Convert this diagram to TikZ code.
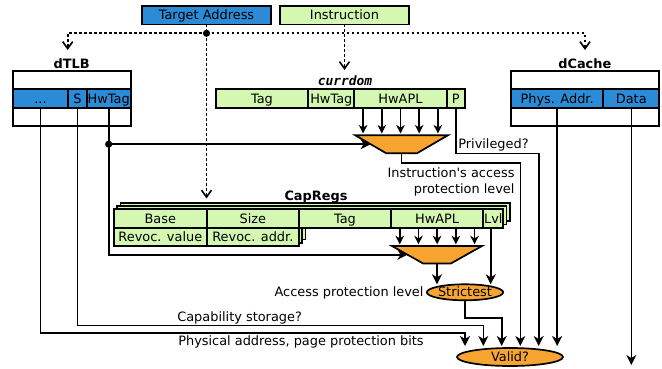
\documentclass[tikz,border=0pt]{standalone}
\usepackage{fontspec}
\setmainfont{DejaVu Sans}[Ligatures=TeXOff]
\setmonofont{DejaVu Sans Mono}
\usetikzlibrary{arrows.meta,shapes.geometric,calc}
\definecolor{regblue}{HTML}{2C8BD6}
\definecolor{reggreen}{HTML}{D4F7B2}
\definecolor{unitorange}{HTML}{F7A530}

\begin{document}
\begin{tikzpicture}[x=1pt,y=-1pt,
  every node/.style={font=\fontsize{12.9}{16}\selectfont, inner sep=0pt, outer sep=0pt},
  cell/.style={draw, line width=1.7pt, anchor=north west, minimum height=18.4,
    text height=10pt, text depth=0.9pt},
  bcell/.style={cell, fill=regblue},
  gcell/.style={cell, fill=reggreen},
  frame/.style={draw, line width=1.7pt, anchor=north west, minimum height=55.3},
  title/.style={font=\fontsize{12.9}{15}\selectfont\bfseries, anchor=base},
  conn/.style={line width=1.6pt, -{Stealth[length=10pt,width=10pt,inset=3pt]}},
  fan/.style={line width=1.6pt, -{Stealth[length=8.5pt,width=8.5pt,inset=2.5pt]}},
  wire/.style={line width=1.6pt},
  dotline/.style={line width=1.6pt, dash pattern=on 2.5pt off 2.5pt},
  dotarrow/.style={dotline, -{Straight Barb[length=7pt,width=10pt,line width=1.6pt]}},
  mux/.style={draw, line width=1.7pt, fill=unitorange, trapezium, inner sep=1pt,
    shape border rotate=180, trapezium stretches=true},
  unit/.style={draw, line width=1.7pt, fill=unitorange, ellipse,
    text height=10pt, text depth=0.9pt}
]
\useasboundingbox (0,0) rectangle (662,369);

% ---- inputs ----
\node[bcell, minimum width=129] (tgt) at (142,6) {Target Address};
\node[gcell, minimum width=129] (instr) at (280,6) {Instruction};

% ---- dTLB ----
\node[title] (tlbtitle) at (71.7,68.3) {dTLB};
\node[frame, minimum width=118] (tlb) at (12.7,70.7) {};
\node[bcell, minimum width=55.6] (tlbdots) at (12.7,89.3) {...};
\node[bcell, minimum width=18.4] (tlbs) at (68.3,89.3) {S};
\node[bcell, minimum width=44] (tlbtag) at (86.7,89.3) {HwTag};

% ---- dCache ----
\node[title] (dctitle) at (584.8,68.3) {dCache};
\node[frame, minimum width=148.3] (dc) at (511,70.7) {};
\node[bcell, minimum width=92.3] (dcpa) at (511,89.3) {Phys. Addr.};
\node[bcell, minimum width=56] (dcdata) at (603.3,89.3) {Data};

% ---- current domain register ----
\node[font=\fontsize{12.9}{15}\selectfont\ttfamily\bfseries\itshape, anchor=base]
  (curtitle) at (345,85.7) {currdom};
\node[gcell, minimum width=92.6] (curtag) at (215.7,89.3) {Tag};
\node[gcell, minimum width=46] (curhwtag) at (308.3,89.3) {HwTag};
\node[gcell, minimum width=92.4] (curapl) at (354.3,89.3) {HwAPL};
\node[gcell, minimum width=18.3] (curp) at (446.7,89.3) {P};

% ---- capability registers (stacked) ----
\foreach \s in {6.6,3.3}
  \draw[line width=1.7pt, fill=reggreen, shift={(\s,-\s)}]
    (114,209.3) -- (503.3,209.3) -- (503.3,227.7) -- (299,227.7)
    -- (299,246) -- (114,246) -- cycle;
\node[title] (captitle) at (316,200) {CapRegs};
\node[gcell, minimum width=92.7] (capbase) at (114,209.3) {Base};
\node[gcell, minimum width=92.3] (capsize) at (206.7,209.3) {Size};
\node[gcell, minimum width=92] (captag) at (299,209.3) {Tag};
\node[gcell, minimum width=92.3] (capapl) at (391,209.3) {HwAPL};
\node[gcell, minimum width=20] (caplvl) at (483.3,209.3) {Lvl};
\node[gcell, minimum width=92.7] (caprval) at (114,227.7) {Revoc. value};
\node[gcell, minimum width=92.3] (capraddr) at (206.7,227.7) {Revoc. addr.};

% ---- selectors and checks ----
\node[mux, minimum width=93, minimum height=18, trapezium angle=45] (mux1) at (401.6,144.2) {};
\node[mux, minimum width=90, minimum height=17.4, trapezium angle=42] (mux2) at (437,254.7) {};
\node[unit, minimum width=76, minimum height=16] (strict) at (465,292.3) {Strictest};
\node[unit, minimum width=106, minimum height=18] (valid) at (510,357) {Valid?};

% ---- routing points ----
\coordinate (jt) at (206.5,33.3);
\coordinate (tlbin) at (67.7,50);
\coordinate (dcin) at (585,50);
\coordinate (curin) at (344.5,70);
\coordinate (capin) at (206.5,198.5);
\coordinate (b1) at (465,332.7);   \coordinate (v1) at (465,346);
\coordinate (b2) at (483.3,325.3); \coordinate (v2) at (483.3,346);
\coordinate (b3) at (501.7,318);   \coordinate (v3) at (501.7,346);
\coordinate (b4) at (520.3,162.7); \coordinate (v4) at (520.3,346);
\coordinate (b5) at (538.7,153.3); \coordinate (v5) at (538.7,346);
\coordinate (v6) at (557.15,346);
\coordinate (dout) at (631.3,365);

% ---- address / instruction distribution ----
\draw[dotline] (tgt.south) -- (jt);
\draw[dotarrow] (jt) -| (tlbin);
\draw[dotarrow] (jt) -| (dcin);
\draw[dotarrow] (jt) -- (capin);
\draw[dotarrow] (instr.south) -- (curin);
\fill (jt) circle (3.6);

% ---- hardware tag to both selectors ----
\coordinate (jh) at (tlbtag.south |- mux1.west);
\draw[wire] (tlbtag.south) -- (jh);
\draw[conn] (jh) -- (mux1.west);
\draw[conn] (jh) |- (mux2.west);
\fill (jh) circle (3.6);

% ---- APL fans ----
\foreach \dx in {-37.4,-18.7,0,18.7,37.4} {
  \draw[fan] ($(curapl.south)+(\dx,0)$) -- ($(curapl.south |- mux1.north)+(\dx,-1.7)$);
  \draw[fan] ($(capapl.south)+(\dx,0)$) -- ($(capapl.south |- mux2.north)+(\dx,-1.7)$);
}

% ---- into Strictest ----
\draw[conn] (mux2.south) -- (mux2.south |- strict.north);
\draw[conn] ([xshift=-2.6pt]caplvl.south) -- ([xshift=-2.6pt]caplvl.south |- strict.north);

% ---- into Valid? ----
\draw[conn] (tlbdots.south) |- (b1) -- (v1);
\draw[conn] (tlbs.south) |- (b2) -- (v2);
\draw[conn] (strict.south) |- (b3) -- (v3);
\draw[conn] (mux1.south) |- (b4) -- (v4);
\draw[conn] (curp.south) |- (b5) -- (v5);
\draw[conn] (dcpa.south) -- (v6);
\draw[conn] (dcdata.south) -- (dout);

% ---- labels ----
\node[anchor=base west] (privlbl) at (458.3,149) {Privileged?};
\node[anchor=north east, align=right] (insnlbl) at (514.5,167.7) {Instruction's access\\protection level};
\node[anchor=base east] (acclbl) at (423.5,296.7) {Access protection level};
\node[anchor=base west] (caplbl) at (177.3,321) {Capability storage?};
\node[anchor=base west] (physlbl) at (178.3,345.3) {Physical address, page protection bits};
\end{tikzpicture}
\end{document}
